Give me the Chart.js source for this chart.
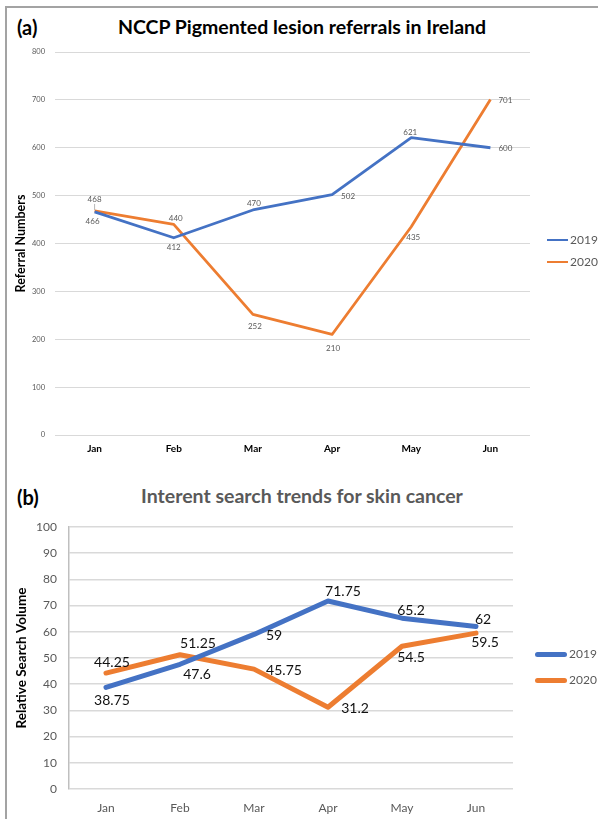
<!DOCTYPE html>
<html>
<head>
<meta charset="utf-8">
<script src="https://cdn.jsdelivr.net/npm/chart.js@4.4.1/dist/chart.umd.min.js"></script>
<style>
  html, body { margin: 0; padding: 0; background: #fff; }
  body { width: 598px; height: 819px; position: relative; overflow: hidden; font-family: Lato, "Open Sans", sans-serif; }
  .frame { position: absolute; left: 5px; top: 6px; width: 700px; height: 900px;
           border-left: 2px solid #a3a3a3; border-top: 2px solid #a3a3a3; }
  .panel { position: absolute; left: 0; width: 598px; }
  #panelA { top: 0; height: 470px; }
  #panelB { top: 470px; height: 349px; }
  .tag { position: absolute; left: 17px; font-weight: 700; font-size: 20px; line-height: 24px; color: #000; }
  .title { position: absolute; left: 0; width: 604px; text-align: center; font-weight: 700; line-height: 24px; }
  .legend { position: absolute; font-size: 12px; color: #595959; }
  .legend .row { position: absolute; left: 0; white-space: nowrap; height: 16px; }
  .legend .swatch { position: absolute; top: 50%; }
  .legend .txt { position: absolute; line-height: 16px; top: 0; }
</style>
</head>
<body>
<div class="frame"></div>

<div class="tag" style="top:15px;">(a)</div>
<div class="title" style="top:15px;font-size:19.5px;color:#000;">NCCP Pigmented lesion referrals in Ireland</div>
<div class="panel" id="panelA"><canvas id="chartA" width="598" height="470"></canvas></div>

<div class="tag" style="top:485px;">(b)</div>
<div class="title" style="top:484px;font-size:19.5px;color:#595959;">Interent search trends for skin cancer</div>
<div class="panel" id="panelB"><canvas id="chartB" width="598" height="349"></canvas></div>

<div id="legendA" class="legend" style="left:547px;top:0;"></div>
<div id="legendB" class="legend" style="left:535px;top:0;"></div>

<script>
// Months shown on both charts
const months = ['Jan', 'Feb', 'Mar', 'Apr', 'May', 'Jun'];
const seriesNames = ['2019', '2020'];

// NCCP pigmented lesion referrals
const referrals2019 = [466, 412, 470, 502, 621, 600];
const referrals2020 = [468, 440, 252, 210, 435, 701];

// Relative internet search volume for "skin cancer"
const search2019 = [38.75, 47.6, 59, 71.75, 65.2, 62];
const search2020 = [44.25, 51.25, 45.75, 31.2, 54.5, 59.5];

const BLUE = '#4472C4';
const ORANGE = '#ED7D31';

// Where each value label sits relative to its point (pixels)
const referralLabelShift = [
  [[-2, 10], [0, 10], [1, -7], [16, 2], [-1, -5], [15, 1]],
  [[0, -12], [2, -6], [2, 12], [1, 14], [2, 11], [15, 1]]
];
const searchLabelShift = [
  [[6, 13], [17, 10], [20, 1], [15, -10], [9, -8], [7, -7]],
  [[6, -11], [18, -11], [30, 1], [27, 1], [9, 11], [9, 9]]
];
// Short leader strokes from a label to its point: [dataset, index, fromDy, toDy]
const referralLeaders = [[1, 0, -7, -1]];

// Writes each point's value next to it
const valueLabels = {
  id: 'valueLabels',
  afterDatasetsDraw(chart, args, opts) {
    const ctx = chart.ctx;
    ctx.save();
    if (opts.leaders) {
      ctx.strokeStyle = '#a6a6a6';
      ctx.lineWidth = 0.8;
      opts.leaders.forEach(([i, j, a, b]) => {
        const pt = chart.getDatasetMeta(i).data[j];
        ctx.beginPath();
        ctx.moveTo(pt.x, pt.y + a);
        ctx.lineTo(pt.x, pt.y + b);
        ctx.stroke();
      });
    }
    ctx.font = opts.font;
    ctx.fillStyle = opts.color;
    ctx.textAlign = 'center';
    ctx.textBaseline = 'middle';
    chart.data.datasets.forEach((ds, i) => {
      const meta = chart.getDatasetMeta(i);
      meta.data.forEach((pt, j) => {
        const s = opts.shift[i][j];
        ctx.fillText(String(ds.data[j]), pt.x + s[0], pt.y + s[1]);
      });
    });
    ctx.restore();
  }
};

Chart.defaults.font.family = 'Lato, "Open Sans", sans-serif';
Chart.defaults.animation = false;

function fixedWidth(w) { return scale => { scale.width = w; }; }
function fixedHeight(h) { return scale => { scale.height = h; }; }

// (a) referrals
new Chart(document.getElementById('chartA'), {
  type: 'line',
  data: {
    labels: months,
    datasets: [
      { label: seriesNames[0], data: referrals2019, borderColor: BLUE, borderWidth: 2.8, pointRadius: 0, tension: 0, borderJoinStyle: 'round' },
      { label: seriesNames[1], data: referrals2020, borderColor: ORANGE, borderWidth: 2.8, pointRadius: 0, tension: 0, borderJoinStyle: 'round' }
    ]
  },
  options: {
    responsive: false,
    layout: { padding: { left: 12, right: 68, top: 52, bottom: 5 } },
    plugins: {
      legend: { display: false },
      tooltip: { enabled: false },
      valueLabels: { font: '8px Lato, sans-serif', color: '#595959', shift: referralLabelShift, leaders: referralLeaders }
    },
    scales: {
      x: {
        offset: true,
        grid: { display: false, drawTicks: false },
        border: { display: false },
        ticks: { padding: 8, color: '#000', font: { size: 10, weight: 'bold' } },
        afterFit: fixedHeight(30)
      },
      y: {
        min: 0, max: 800,
        ticks: { stepSize: 100, padding: 10, color: '#595959', font: { size: 7.5 } },
        grid: { color: '#d9d9d9', lineWidth: 1, drawTicks: false },
        border: { display: false },
        title: { display: true, text: 'Referral Numbers', color: '#000', font: { size: 12.5, weight: 'bold' }, padding: { top: 1, bottom: 0 } },
        afterFit: fixedWidth(43)
      }
    }
  },
  plugins: [valueLabels]
});

// (b) search trends
new Chart(document.getElementById('chartB'), {
  type: 'line',
  data: {
    labels: months,
    datasets: [
      { label: seriesNames[0], data: search2019, borderColor: BLUE, borderWidth: 5, pointRadius: 0, tension: 0, borderJoinStyle: 'round', borderCapStyle: 'round' },
      { label: seriesNames[1], data: search2020, borderColor: ORANGE, borderWidth: 5, pointRadius: 0, tension: 0, borderJoinStyle: 'round', borderCapStyle: 'round' }
    ]
  },
  options: {
    responsive: false,
    layout: { padding: { left: 10, right: 85, top: 57, bottom: 0 } },
    plugins: {
      legend: { display: false },
      tooltip: { enabled: false },
      valueLabels: { font: '14px Lato, sans-serif', color: '#111', shift: searchLabelShift }
    },
    scales: {
      x: {
        offset: true,
        grid: { display: false, drawTicks: false },
        border: { display: false },
        ticks: { padding: 12, color: '#595959', font: { size: 12 } },
        afterFit: fixedHeight(30)
      },
      y: {
        min: 0, max: 100,
        ticks: { stepSize: 10, padding: 12, color: '#595959', font: { size: 12 } },
        grid: { color: '#d9d9d9', lineWidth: 1.5, drawTicks: false },
        border: { display: true, color: '#bfbfbf', width: 1.5 },
        title: { display: true, text: 'Relative Search Volume', color: '#000', font: { size: 13.5, weight: 'bold' }, padding: { top: 4, bottom: 0 } },
        afterFit: fixedWidth(59)
      }
    }
  },
  plugins: [valueLabels]
});

// Legends beside each chart
function buildLegend(el, rowsTop, lineLen, lineW, round) {
  [BLUE, ORANGE].forEach((c, i) => {
    const row = document.createElement('div');
    row.className = 'row';
    row.style.top = rowsTop[i] + 'px';
    const sw = document.createElement('div');
    sw.className = 'swatch';
    sw.style.left = '0px';
    sw.style.width = lineLen + 'px';
    sw.style.height = lineW + 'px';
    sw.style.marginTop = (-lineW / 2) + 'px';
    sw.style.background = c;
    if (round) sw.style.borderRadius = (lineW / 2) + 'px';
    const tx = document.createElement('div');
    tx.className = 'txt';
    tx.style.left = (lineLen + 2) + 'px';
    tx.textContent = seriesNames[i];
    row.appendChild(sw);
    row.appendChild(tx);
    el.appendChild(row);
  });
}
buildLegend(document.getElementById('legendA'), [232, 254], 21, 2.5, false);
buildLegend(document.getElementById('legendB'), [646, 672], 32, 5, true);
</script>
</body>
</html>
